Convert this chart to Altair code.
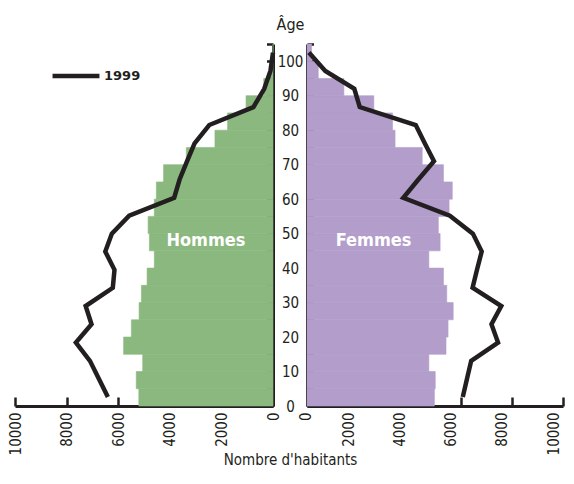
import altair as alt
import pandas as pd

# ---- data ----
age_start = [0, 5, 10, 15, 20, 25, 30, 35, 40, 45, 50, 55, 60, 65, 70, 75, 80, 85, 90, 95, 100]
hommes = [5200, 5300, 5050, 5790, 5490, 5190, 5100, 4880, 4600, 4790, 4840,
          4600, 4520, 4240, 3360, 2250, 1760, 1045, 360, 90, 0]
femmes = [4975, 5010, 4760, 5430, 5510, 5710, 5460, 5330, 4760, 5200, 5130,
          5550, 5675, 5330, 4500, 3440, 3340, 2610, 1440, 440, 180]

age_1999 = [2.6, 7.9, 13.1, 18.4, 23.7, 29.0, 34.3, 39.5, 44.8, 50.0,
            55.2, 60.4, 65.7, 71.0, 76.2, 81.5, 86.7, 92.0, 97.2, 102.5]
hommes_1999 = [6400, 6750, 7095, 7640, 7034, 7262, 6209, 6144, 6501, 6247,
               5574, 3830, 3620, 3330, 3040, 2471, 760, 340, 100, 0]
femmes_1999 = [6085, 6250, 6414, 7463, 7206, 7589, 6468, 6640, 6824, 6479,
               5580, 3762, 4350, 4960, 4600, 4248, 2060, 1848, 715, 75]

sexes = ["Hommes", "Femmes"]
x_ticks = [0, 2000, 4000, 6000, 8000, 10000]
age_ticks = list(range(0, 110, 5))
age_labels = list(range(0, 110, 10))

# ---- style ----
FONT = "DejaVu Sans Condensed, DejaVu Sans, sans-serif"
INK = "#231f20"
GREEN = "#8ab87e"
PURPLE = "#b29dcb"
W_L, W_R, H = 258, 256, 362

bars = pd.DataFrame({
    "age0": age_start,
    "age1": [a + 5 for a in age_start],
    "hommes": hommes,
    "femmes": femmes,
})
lines = pd.DataFrame({
    "age": age_1999,
    "hommes": hommes_1999,
    "femmes": femmes_1999,
    "serie": ["1999"] * len(age_1999),
})
lab_h = pd.DataFrame({"sexe": [sexes[0]]})
lab_f = pd.DataFrame({"sexe": [sexes[1]]})

yscale = alt.Scale(domain=[0, 105], nice=False, zero=True)
xL = alt.Scale(domain=[0, 10000], reverse=True, nice=False)
xR = alt.Scale(domain=[0, 10000], nice=False)

# bottom axis: labels + line, no ticks
xlab_common = dict(
    orient="bottom", values=x_ticks, format="d", labelAngle=270, ticks=False,
    grid=False, domainColor=INK, domainWidth=3, labelFont=FONT, labelFontSize=15,
    labelColor=INK, labelPadding=6, labelFlush=False, labelOverlap=False,
)


def xtick_axis():
    # inward x ticks: a top axis moved down onto the bottom edge
    return alt.Axis(orient="top", offset=-H, values=x_ticks, labels=False,
                    domain=False, grid=False, ticks=True, tickSize=9,
                    tickWidth=2.5, tickColor=INK, title=None)


# ---------- left panel (Hommes) ----------
l_bars = alt.Chart(bars).mark_bar(color=GREEN, stroke=GREEN, strokeWidth=0.6).encode(
    x=alt.X("hommes:Q", scale=xL, axis=alt.Axis(
        title="Nombre d'habitants", titleFont=FONT, titleFontSize=15,
        titleFontWeight="normal", titleColor=INK, titleX=W_L + 17, titleY=58,
        titleAlign="center", titleBaseline="alphabetic", **xlab_common)),
    x2=alt.X2Datum(0),
    y=alt.Y("age0:Q", scale=yscale, axis=alt.Axis(
        orient="right", values=age_labels, ticks=False, grid=False,
        labelAlign="center", labelBaseline="middle", labelPadding=17,
        labelFlush=False, labelOverlap=False,
        domainColor=INK, domainWidth=3, labelFont=FONT, labelFontSize=15,
        labelColor=INK, title="Âge", titleAngle=0, titleX=17, titleY=-15,
        titleAlign="center", titleBaseline="alphabetic", titleFont=FONT,
        titleFontSize=16, titleFontWeight="normal", titleColor=INK)),
    y2="age1:Q",
)
l_line = alt.Chart(lines).mark_line(strokeWidth=4.5, strokeJoin="miter").encode(
    x=alt.X("hommes:Q", scale=xL, axis=xtick_axis()),
    y=alt.Y("age:Q", scale=yscale, axis=alt.Axis(
        orient="left", offset=-W_L, values=age_ticks, labels=False, domain=False,
        grid=False, ticks=True, tickSize=6.5, tickWidth=2.5, tickColor=INK,
        title=None)),
    order="age:Q",
    stroke=alt.Stroke("serie:N", scale=alt.Scale(range=[INK]), legend=alt.Legend(
        title=None, orient="none", legendX=35, legendY=6, symbolType="stroke",
        symbolSize=2200, symbolStrokeWidth=4.5, labelFont="DejaVu Sans",
        labelFontWeight="bold", labelFontSize=13, labelColor=INK, labelOffset=2)),
)
l_text = alt.Chart(lab_h).mark_text(
    color="white", font=FONT, fontWeight="bold", fontSize=18,
    align="center", baseline="middle").encode(
    text="sexe:N",
    x=alt.XDatum(2600, scale=xL, axis=None),
    y=alt.YDatum(47.8, scale=yscale, axis=None),
)
left = alt.layer(l_bars, l_line, l_text).resolve_axis(
    x="independent", y="independent").properties(width=W_L, height=H)

# ---------- right panel (Femmes) ----------
r_bars = alt.Chart(bars).mark_bar(color=PURPLE, stroke=PURPLE, strokeWidth=0.6).encode(
    x=alt.X("femmes:Q", scale=xR, axis=alt.Axis(
        title=None,
        labelOffset={"condition": {"test": "datum.value === 0", "value": -2}, "value": -10},
        **xlab_common)),
    x2=alt.X2Datum(0),
    y=alt.Y("age0:Q", scale=yscale, axis=alt.Axis(
        orient="left", labels=False, ticks=False, grid=False,
        domainColor=INK, domainWidth=3, title=None)),
    y2="age1:Q",
)
r_line = alt.Chart(lines).mark_line(strokeWidth=4.5, strokeJoin="miter", color=INK).encode(
    x=alt.X("femmes:Q", scale=xR, axis=xtick_axis()),
    y=alt.Y("age:Q", scale=yscale, axis=alt.Axis(
        orient="right", offset=-W_R, values=age_ticks, labels=False, domain=False,
        grid=False, ticks=True, tickSize=6.5, tickWidth=2.5, tickColor=INK,
        title=None)),
    order="age:Q",
)
r_text = alt.Chart(lab_f).mark_text(
    color="white", font=FONT, fontWeight="bold", fontSize=18,
    align="center", baseline="middle").encode(
    text="sexe:N",
    x=alt.XDatum(2600, scale=xR, axis=None),
    y=alt.YDatum(47.8, scale=yscale, axis=None),
)
right = alt.layer(r_bars, r_line, r_text).resolve_axis(
    x="independent", y="independent").properties(width=W_R, height=H)

chart = alt.hconcat(left, right, spacing=34, bounds="flush").resolve_scale(
    x="independent", y="independent"
).resolve_legend(stroke="independent").properties(
    padding={"left": 0, "top": 8, "right": 0, "bottom": 0},
    background="white",
).configure_view(stroke=None)

chart.save("out.html", embed_options={"renderer": "svg", "actions": False})
